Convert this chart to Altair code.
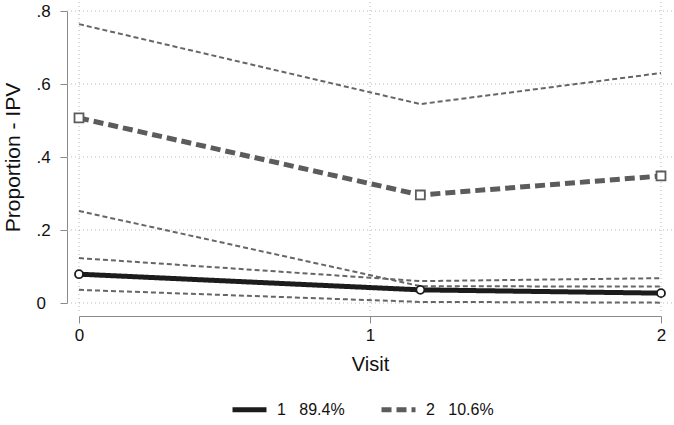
import altair as alt
import pandas as pd

# Visit positions (the middle visit sits a little after 1)
visits = [0, 1.173, 2]

# Class labels with class shares
class_labels = ["1\u00a0\u00a0\u00a089.4%", "2\u00a0\u00a0\u00a010.6%"]

# Estimated proportions per class
class1_prop = [0.079, 0.036, 0.027]
class2_prop = [0.507, 0.296, 0.348]

# Confidence bounds per class
class1_lo = [0.036, 0.003, 0.001]
class1_hi = [0.123, 0.060, 0.068]
class2_lo = [0.252, 0.046, 0.045]
class2_hi = [0.764, 0.545, 0.630]

# Axis ticks
x_ticks = [0.0, 1.0, 2.0]
y_ticks = [0.0, 0.2, 0.4, 0.6, 0.8]

main_rows = []
for lab, vals in zip(class_labels, [class1_prop, class2_prop]):
    for v, p in zip(visits, vals):
        main_rows.append({"visit": v, "prop": p, "cls": lab})
main_df = pd.DataFrame(main_rows)

ci_rows = []
for name, vals in [("c1_lo", class1_lo), ("c1_hi", class1_hi),
                   ("c2_lo", class2_lo), ("c2_hi", class2_hi)]:
    for v, p in zip(visits, vals):
        ci_rows.append({"visit": v, "prop": p, "bound": name})
ci_df = pd.DataFrame(ci_rows)

hgrid_df = pd.DataFrame({"gy": y_ticks, "x_from": -0.041, "x_to": 2.05})
vgrid_df = pd.DataFrame({"gx": x_ticks, "y_from": -0.022, "y_to": 0.835})

font = "Liberation Sans"
axis_grey = "#8a8a8a"

x_scale = alt.Scale(domain=[0, 2], nice=False, zero=False)
y_scale = alt.Scale(domain=[0, 0.8], nice=False, zero=False)

x_axis = alt.Axis(
    values=x_ticks, labelExpr="format(datum.value, 'd')", title="Visit",
    grid=False, offset=13, labelOverlap=False, labelFlush=False,
    domainColor=axis_grey, tickColor=axis_grey, tickSize=7, tickWidth=1,
    labelFontSize=17, labelColor="#111111", labelPadding=4, labelFont=font,
    titleFont=font, titleFontSize=20, titleFontWeight="normal",
    titleColor="#111111", titlePadding=11,
)
y_axis = alt.Axis(
    values=y_ticks, title="Proportion - IPV", grid=False, offset=12,
    labelOverlap=False, labelFlush=False,
    labelExpr="datum.value == 0 ? '0' : substring(format(datum.value, '.1f'), 1)",
    domainColor=axis_grey, tickColor=axis_grey, tickSize=7, tickWidth=1,
    labelFontSize=17, labelColor="#111111", labelFont=font, labelAngle=0,
    labelAlign="left", labelPadding=24, labelBaseline="middle",
    titleFont=font, titleFontSize=21, titleFontWeight="normal",
    titleColor="#111111", titlePadding=13,
)


def xenc(field):
    return alt.X(field, type="quantitative", scale=x_scale, axis=x_axis)


def yenc(field):
    return alt.Y(field, type="quantitative", scale=y_scale, axis=y_axis)


grid_style = dict(color="#b5b5b5", strokeWidth=1, strokeDash=[1, 3])

hgrid = alt.Chart(hgrid_df).mark_rule(**grid_style).encode(
    x=xenc("x_from"), x2="x_to", y=yenc("gy")
)
vgrid = alt.Chart(vgrid_df).mark_rule(**grid_style).encode(
    x=xenc("gx"), y=yenc("y_from"), y2="y_to"
)

ci_lines = alt.Chart(ci_df).mark_line(
    color="#666666", strokeWidth=2, strokeDash=[5, 3]
).encode(
    x=xenc("visit"), y=yenc("prop"), detail="bound:N"
)

legend = alt.Legend(
    title=None, orient="none", legendX=151, legendY=379, direction="horizontal",
    symbolType="stroke", symbolSize=1156, symbolStrokeWidth=5,
    labelFont=font, labelFontSize=16, labelColor="#111111", labelOffset=8,
    columnPadding=26,
)

main_lines = alt.Chart(main_df).mark_line(strokeWidth=5).encode(
    x=xenc("visit"),
    y=yenc("prop"),
    color=alt.Color("cls:N", scale=alt.Scale(domain=class_labels,
                                             range=["#1c1c1c", "#5c5c5c"]),
                    legend=legend),
    strokeDash=alt.StrokeDash("cls:N", scale=alt.Scale(domain=class_labels,
                                                      range=[[1, 0], [10, 5]]),
                              legend=legend),
)

circles = alt.Chart(main_df).transform_filter(
    alt.datum.cls == class_labels[0]
).mark_point(shape="circle", size=64, filled=True, fill="white",
             stroke="#1c1c1c", strokeWidth=1.8, opacity=1).encode(
    x=xenc("visit"), y=yenc("prop")
)
squares = alt.Chart(main_df).transform_filter(
    alt.datum.cls == class_labels[1]
).mark_point(shape="square", size=80, filled=True, fill="white",
             stroke="#5c5c5c", strokeWidth=1.8, opacity=1).encode(
    x=xenc("visit"), y=yenc("prop")
)

chart = alt.layer(hgrid, vgrid, ci_lines, main_lines, circles, squares).properties(
    width=582, height=292,
    autosize=alt.AutoSizeParams(type="none"),
    padding={"left": 79, "top": 11, "right": 13, "bottom": 122},
    background="white",
).configure_view(stroke=None)

chart.save("out.html", embed_options={"renderer": "svg", "actions": False})
